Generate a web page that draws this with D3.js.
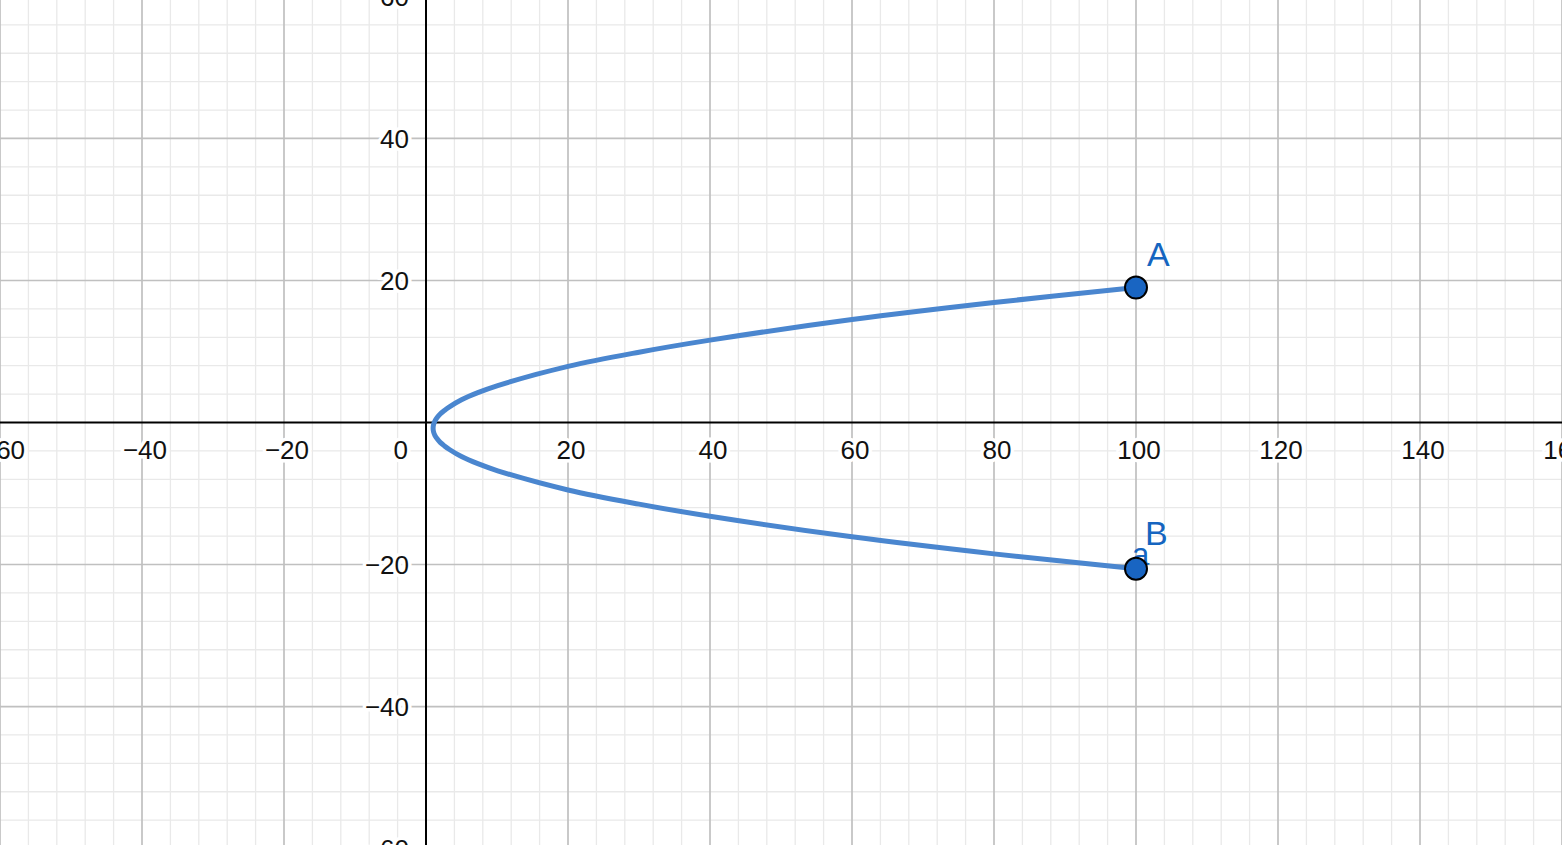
<!DOCTYPE html>
<html><head><meta charset="utf-8">
<script src="https://cdn.jsdelivr.net/npm/d3@7"></script>
<style>html,body{margin:0;padding:0;background:#fff;overflow:hidden}svg{display:block}</style>
</head><body>
<svg id="chart" width="1562" height="845"></svg>
<script>
// ---- data ----
const xTickLabels = [-60, -40, -20, 0, 20, 40, 60, 80, 100, 120, 140, 160];
const yTickLabels = [-60, -40, -20, 20, 40, 60];
// curve points, ordered from A to B
const curveX = [100, 80, 60, 40, 30, 20, 10.1, 7.3, 5.0, 3.3, 2.6, 2.0, 1.57, 1.25, 1.06, 1,
                1.06, 1.25, 1.57, 2.0, 2.6, 3.3, 5.0, 7.3, 10.1, 20, 30, 40, 60, 80, 100];
const curveY = [19, 16.9, 14.5, 11.6, 9.9, 7.9, 5.2, 4.2, 3.2, 2.2, 1.7, 1.2, 0.7, 0.2, -0.3, -0.8,
                -1.3, -1.8, -2.3, -2.8, -3.3, -3.8, -4.8, -5.8, -6.8, -9.5, -11.5, -13.2, -16.1, -18.5, -20.6];
const pointNames = ["A", "B"];
const pointX = [100, 100];
const pointY = [19, -20.6];

const W = 1562, H = 845;
const svg = d3.select("#chart");
const x = d3.scaleLinear().domain([-60, 160]).range([0, W]);
const y = d3.scaleLinear().domain([59.5, -59.5]).range([0, H]);

const font = "'Liberation Sans', Arial, sans-serif";

// minor grid
const minorX = d3.range(-60, 161, 4).filter(v => v % 20 !== 0);
const minorY = d3.range(-60, 61, 4).filter(v => v % 20 !== 0);
svg.append("g").selectAll("line").data(minorX).join("line")
  .attr("x1", d => x(d)).attr("x2", d => x(d)).attr("y1", 0).attr("y2", H)
  .attr("stroke", "#e9e9e9").attr("stroke-width", 1.3);
svg.append("g").selectAll("line").data(minorY).join("line")
  .attr("y1", d => y(d)).attr("y2", d => y(d)).attr("x1", 0).attr("x2", W)
  .attr("stroke", "#e9e9e9").attr("stroke-width", 1.3);

// major grid
const majorX = d3.range(-60, 161, 20).filter(v => v !== 0);
const majorY = d3.range(-60, 61, 20).filter(v => v !== 0);
svg.append("g").selectAll("line").data(majorX).join("line")
  .attr("x1", d => x(d)).attr("x2", d => x(d)).attr("y1", 0).attr("y2", H)
  .attr("stroke", "#c0c0c0").attr("stroke-width", 1.7);
svg.append("g").selectAll("line").data(majorY).join("line")
  .attr("y1", d => y(d)).attr("y2", d => y(d)).attr("x1", 0).attr("x2", W)
  .attr("stroke", "#c0c0c0").attr("stroke-width", 1.7);

// axes
svg.append("line").attr("x1", 0).attr("x2", W).attr("y1", y(0)).attr("y2", y(0))
  .attr("stroke", "#000").attr("stroke-width", 2);
svg.append("line").attr("x1", x(0)).attr("x2", x(0)).attr("y1", 0).attr("y2", H)
  .attr("stroke", "#000").attr("stroke-width", 2);

const fmt = v => v < 0 ? "\u2212" + Math.abs(v) : String(v);

// x tick labels
svg.append("g").selectAll("text").data(xTickLabels).join("text")
  .attr("x", d => d === 0 ? x(0) - 18 : x(d) + 3)
  .attr("y", y(0) + 36)
  .attr("text-anchor", d => d === 0 ? "end" : "middle")
  .attr("font-family", font).attr("font-size", 26).attr("fill", "#111")
  .attr("stroke", "#fff").attr("stroke-width", 7).attr("paint-order", "stroke")
  .text(d => fmt(d));

// y tick labels
svg.append("g").selectAll("text").data(yTickLabels).join("text")
  .attr("x", x(0) - 17)
  .attr("y", d => y(d) + 9.5)
  .attr("text-anchor", "end")
  .attr("font-family", font).attr("font-size", 26).attr("fill", "#111")
  .attr("stroke", "#fff").attr("stroke-width", 7).attr("paint-order", "stroke")
  .text(d => fmt(d));

// curve
const pts = curveX.map((v, i) => [v, curveY[i]]);
const line = d3.line().x(d => x(d[0])).y(d => y(d[1])).curve(d3.curveCatmullRom.alpha(0.5));
svg.append("path").attr("d", line(pts)).attr("fill", "none")
  .attr("stroke", "#4a86cf").attr("stroke-width", 5).attr("stroke-linecap", "round");

// curve label "a" (partly under point B)
svg.append("text").attr("x", x(pointX[1]) - 4).attr("y", y(pointY[1]) - 4)
  .attr("font-family", font).attr("font-size", 31).attr("fill", "#1565c0")
  .text("a");

// points
svg.append("g").selectAll("circle").data(pointNames).join("circle")
  .attr("cx", (d, i) => x(pointX[i])).attr("cy", (d, i) => y(pointY[i]))
  .attr("r", 11).attr("fill", "#1965c2").attr("stroke", "#000").attr("stroke-width", 2);

// point labels
svg.append("g").selectAll("text").data(pointNames).join("text")
  .attr("x", (d, i) => x(pointX[i]) + (i === 0 ? 11 : 9))
  .attr("y", (d, i) => y(pointY[i]) + (i === 0 ? -22 : -24))
  .attr("font-family", font).attr("font-size", 34).attr("fill", "#1565c0")
  .text(d => d);
</script>
</body></html>
